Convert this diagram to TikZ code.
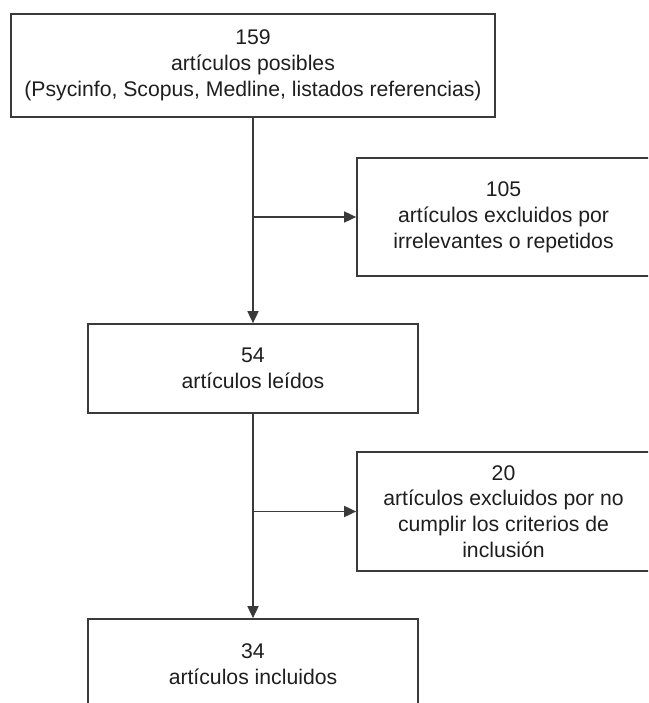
\documentclass[tikz,border=0pt]{standalone}
\usepackage{fontspec}
\setmainfont{Liberation Sans}
\usetikzlibrary{arrows.meta}
\definecolor{linecol}{HTML}{3A3A3A}
\definecolor{textcol}{HTML}{1E1E1E}
\begin{document}
\begin{tikzpicture}[x=1pt,y=-1pt,
  box/.style={draw=linecol, line width=1.7pt, inner sep=0pt, align=center,
    text=textcol, font=\fontsize{21.2}{25.8}\selectfont},
  conn/.style={draw=linecol, line width=1.7pt},
  arr/.style={conn, -{Triangle[length=12pt,width=11pt]}}]
\useasboundingbox (0,0) rectangle (648,703);
\clip (0,0) rectangle (648,703);
\node[box, minimum width=484pt, minimum height=103pt] (a) at (253,65.5)
  {159\\artículos posibles\\(Psycinfo, Scopus, Medline, listados referencias)};
\node[box, minimum width=293pt, minimum height=118pt] (b) at (503.5,217)
  {105\\artículos excluidos por\\irrelevantes o repetidos};
\node[box, minimum width=330pt, minimum height=89pt] (c) at (253,368.5)
  {54\\artículos leídos};
\node[box, minimum width=293pt, minimum height=119pt] (d) at (503.5,511.5)
  {20\\artículos excluidos por no\\cumplir los criterios de\\inclusión};
\node[box, minimum width=330pt, minimum height=91pt] (e) at (253,664.5)
  {34\\artículos incluidos};
\draw[arr] (a.south) -- (c.north);
\draw[arr] (a.south |- b.west) -- (b.west);
\draw[arr] (c.south) -- (e.north);
\draw[arr] (c.south |- d.west) -- (d.west);
\end{tikzpicture}
\end{document}
